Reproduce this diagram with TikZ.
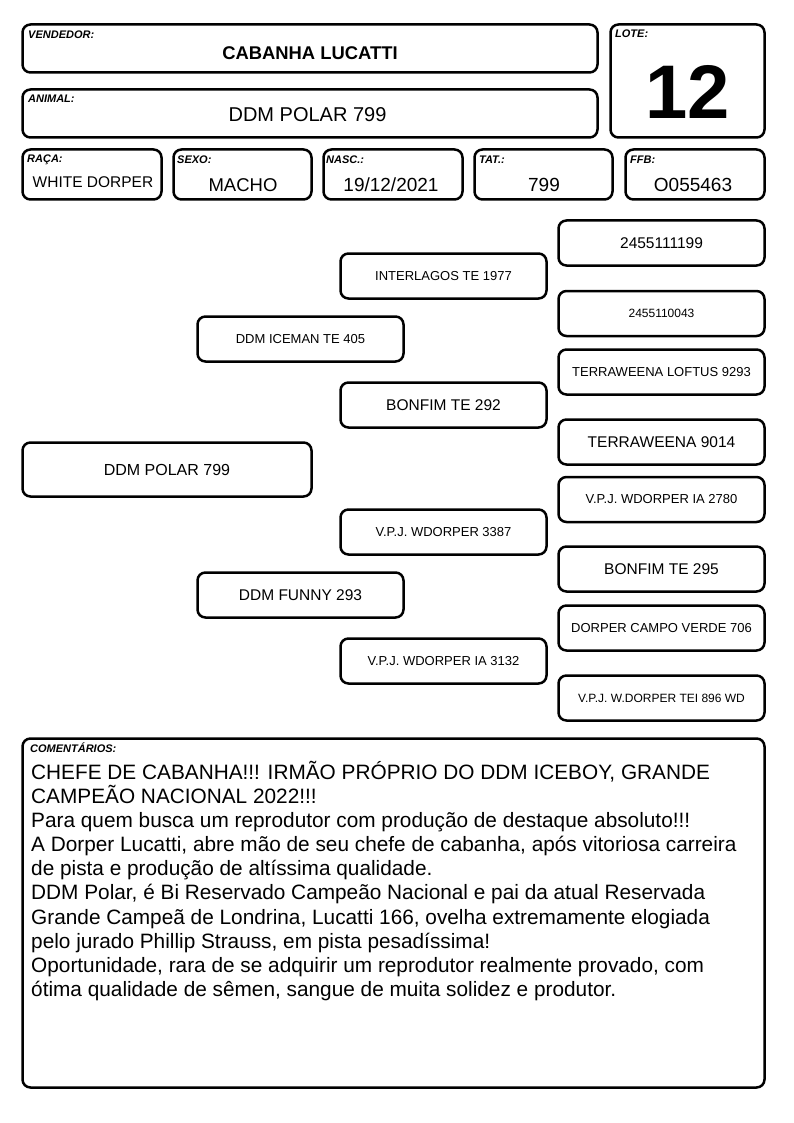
\documentclass[tikz,border=0pt]{standalone}
\usepackage{fontspec}
\setmainfont{Liberation Sans}
\usepackage{tikz}
\usetikzlibrary{shapes}
\tikzstyle{field} = [rectangle, draw, line width=2.5pt, rounded corners=8pt, inner sep=0pt]
\tikzstyle{tag} = [anchor=base west, inner sep=0pt, font=\fontsize{11}{13}\selectfont\bfseries\itshape]
\tikzstyle{value} = [anchor=base, inner sep=0pt]
\tikzstyle{pedbox} = [field, minimum width=206pt, minimum height=45pt, align=center]
\newcommand{\fs}[1]{\fontsize{#1}{#1}\selectfont}

\begin{document}
\begin{tikzpicture}[x=1pt, y=-1pt]
\useasboundingbox (0,0) rectangle (794,1123);

% header

\node [field, minimum width=575pt, minimum height=48pt] at (310, 48.5) (vendedor) {};
\node [tag] at (28, 39) (vendedorlbl) {VENDEDOR:};
\node [value, font=\fs{18.4}\bfseries] at (310, 60) (vendedortxt) {CABANHA LUCATTI};

\node [field, minimum width=575pt, minimum height=48pt] at (310, 113.5) (animal) {};
\node [tag] at (28, 103) (animallbl) {ANIMAL:};
\node [value, font=\fs{20}] at (307.5, 122) (animaltxt) {DDM POLAR 799};

\node [field, minimum width=154pt, minimum height=113pt] at (687.5, 81) (lote) {};
\node [tag] at (615, 38) (lotelbl) {LOTE:};
\node [value, font=\fs{76}\bfseries] at (687.5, 119) (lotetxt) {12};

\node [field, minimum width=139pt, minimum height=50pt] at (92, 174.5) (raca) {};
\node [tag] at (27, 163) (racalbl) {RAÇA:};
\node [value, font=\fs{15.5}] at (93, 188) (racatxt) {WHITE DORPER};

\node [field, minimum width=138pt, minimum height=50pt] at (242.5, 174.5) (sexo) {};
\node [tag] at (177, 164) (sexolbl) {SEXO:};
\node [value, font=\fs{18.5}] at (243, 192) (sexotxt) {MACHO};

\node [field, minimum width=139pt, minimum height=50pt] at (393, 174.5) (nasc) {};
\node [tag] at (326, 164) (nasclbl) {NASC.:};
\node [value, font=\fs{19}] at (391, 192) (nasctxt) {19/12/2021};

\node [field, minimum width=138pt, minimum height=50pt] at (543.5, 174.5) (tat) {};
\node [tag] at (479, 164) (tatlbl) {TAT.:};
\node [value, font=\fs{19}] at (544, 192) (tattxt) {799};

\node [field, minimum width=139pt, minimum height=50pt] at (695, 174.5) (ffb) {};
\node [tag] at (630, 164) (ffblbl) {FFB:};
\node [value, font=\fs{19}] at (693, 192) (ffbtxt) {O055463};

% pedigree

\node [field, minimum width=289pt, minimum height=54pt, font=\fs{16}] at (167, 469.5) (animalped) {DDM POLAR 799};

\node [pedbox, font=\fs{13}] at (300.5, 339) (pai) {DDM ICEMAN TE 405};
\node [pedbox, font=\fs{15.5}] at (300.5, 595) (mae) {DDM FUNNY 293};

\node [pedbox, font=\fs{13}] at (443.5, 276) (avop) {INTERLAGOS TE 1977};
\node [pedbox, font=\fs{15.5}] at (443.5, 405) (avap) {BONFIM TE 292};
\node [pedbox, font=\fs{13}] at (443.5, 532) (avom) {V.P.J. WDORPER 3387};
\node [pedbox, font=\fs{13}] at (443.5, 661) (avam) {V.P.J. WDORPER IA 3132};

\node [pedbox, font=\fs{15.5}] at (661.5, 243) (bisa) {2455111199};
\node [pedbox, font=\fs{12}] at (661.5, 313.5) (bisb) {2455110043};
\node [pedbox, font=\fs{13}] at (661.5, 372) (bisc) {TERRAWEENA LOFTUS 9293};
\node [pedbox, font=\fs{15.5}] at (661.5, 442) (bisd) {TERRAWEENA 9014};
\node [pedbox, font=\fs{13}] at (661.5, 499.5) (bise) {V.P.J. WDORPER IA 2780};
\node [pedbox, font=\fs{15.5}] at (661.5, 569) (bisf) {BONFIM TE 295};
\node [pedbox, font=\fs{13}] at (661.5, 628) (bisg) {DORPER CAMPO VERDE 706};
\node [pedbox, font=\fs{12}] at (661.5, 698) (bish) {V.P.J. W.DORPER TEI 896 WD};

% comments

\node [field, minimum width=742pt, minimum height=349pt] at (393.5, 913) (coment) {};
\node [tag] at (30, 752) (comentlbl) {COMENTÁRIOS:};
\node [anchor=north west, inner sep=0pt, align=left, font=\fontsize{20.8}{24.1}\selectfont] at (31, 761) (comenttxt) {CHEFE DE CABANHA!!! IRMÃO PRÓPRIO DO DDM ICEBOY, GRANDE\\
CAMPEÃO NACIONAL 2022!!!\\
Para quem busca um reprodutor com produção de destaque absoluto!!!\\
A Dorper Lucatti, abre mão de seu chefe de cabanha, após vitoriosa carreira\\
de pista e produção de altíssima qualidade.\\
DDM Polar, é Bi Reservado Campeão Nacional e pai da atual Reservada\\
Grande Campeã de Londrina, Lucatti 166, ovelha extremamente elogiada\\
pelo jurado Phillip Strauss, em pista pesadíssima!\\
Oportunidade, rara de se adquirir um reprodutor realmente provado, com\\
ótima qualidade de sêmen, sangue de muita solidez e produtor.};

\end{tikzpicture}
\end{document}
